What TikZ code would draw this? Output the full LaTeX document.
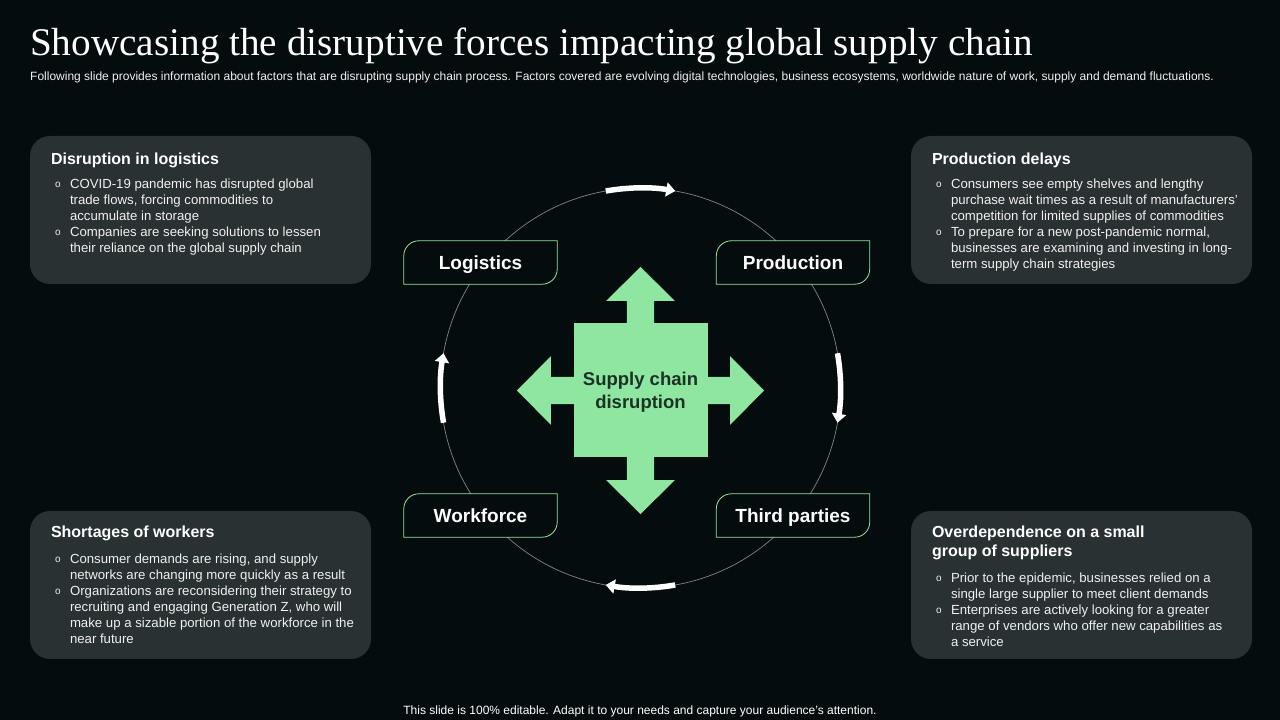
\documentclass[tikz,border=0pt]{standalone}
\usepackage{fontspec}
\setmainfont{Liberation Sans}
\newfontfamily\titlefont{Liberation Serif}
\usepackage{xcolor}
\usepackage{tikz}
\usetikzlibrary{arrows.meta}
\definecolor{slidebg}{HTML}{050C0D}
\definecolor{panelgray}{HTML}{2A3132}
\definecolor{mintgreen}{HTML}{8EE6A1}
\definecolor{ringgray}{HTML}{7D8886}
\definecolor{hubtext}{HTML}{1C3226}
\definecolor{softwhite}{HTML}{F0F0F0}
\newcommand{\bulletmark}{\raisebox{1pt}{\fontsize{10}{10}\selectfont o}}
% outline with only two rounded corners
\newcommand{\tagoutline}[1]{%
  \draw[tagedge] ([yshift=-15pt]#1.north west) arc[start angle=180, end angle=90, radius=15pt]
    -- (#1.north east) -- ([yshift=15pt]#1.south east) arc[start angle=0, end angle=-90, radius=15pt]
    -- (#1.south west) -- cycle;}

\begin{document}
\begin{tikzpicture}[x=1pt, y=1pt,
    panel/.style={fill=panelgray, rounded corners=20pt, minimum width=341pt, minimum height=148pt, inner sep=0pt},
    paneltitle/.style={anchor=base west, inner sep=0pt, text=white, font=\fontsize{16}{19}\selectfont\bfseries},
    bulletlist/.style={anchor=base west, inner sep=0pt, text=softwhite, font=\fontsize{13.2}{16}\selectfont},
    tag/.style={fill=slidebg, minimum width=153pt, minimum height=43pt, inner sep=0pt, text height=13.6pt, text depth=0pt,
                text=white, font=\fontsize{19}{22}\selectfont\bfseries},
    tagedge/.style={draw=mintgreen, line width=0.8pt},
    flow/.style={draw=white, line width=5.5pt, -{Triangle[length=9pt, width=14pt]}},
  ]
  \fill[slidebg] (0,0) rectangle (1280,720);
  \useasboundingbox (0,0) rectangle (1280,720);

  % heading
  \node[anchor=base west, inner sep=0pt, text=white, font=\titlefont\fontsize{39.2}{44}\selectfont] (title) at (30,664)
    {Showcasing the disruptive forces impacting global supply chain};
  \node[anchor=base west, inner sep=0pt, text=softwhite, font=\fontsize{12}{14}\selectfont] (subtitle) at (30,639)
    {Following slide provides information about factors that are disrupting supply chain process. Factors covered are evolving digital technologies, business ecosystems, worldwide nature of work, supply and demand fluctuations.};

  % side panels
  \node[panel] (logpanel) at (200.5,510) {};
  \node[paneltitle] at ([shift={(21,-28.5)}]logpanel.north west) {Disruption in logistics};
  \node[bulletlist] at ([shift={(25,-52.5)}]logpanel.north west) {%
    \begin{tabular}[t]{@{}p{15pt}@{}l@{}}
      \bulletmark & COVID-19 pandemic has disrupted global\\
      & trade flows, forcing commodities to\\
      & accumulate in storage\\
      \bulletmark & Companies are seeking solutions to lessen\\
      & their reliance on the global supply chain
    \end{tabular}};

  \node[panel] (prodpanel) at (1081.5,510) {};
  \node[paneltitle] at ([shift={(21,-28.5)}]prodpanel.north west) {Production delays};
  \node[bulletlist] at ([shift={(25,-52.5)}]prodpanel.north west) {%
    \begin{tabular}[t]{@{}p{15pt}@{}l@{}}
      \bulletmark & Consumers see empty shelves and lengthy\\
      & purchase wait times as a result of manufacturers'\\
      & competition for limited supplies of commodities\\
      \bulletmark & To prepare for a new post-pandemic normal,\\
      & businesses are examining and investing in long-\\
      & term supply chain strategies
    \end{tabular}};

  \node[panel] (workpanel) at (200.5,135) {};
  \node[paneltitle] at ([shift={(21,-26.5)}]workpanel.north west) {Shortages of workers};
  \node[bulletlist] at ([shift={(25,-52.5)}]workpanel.north west) {%
    \begin{tabular}[t]{@{}p{15pt}@{}l@{}}
      \bulletmark & Consumer demands are rising, and supply\\
      & networks are changing more quickly as a result\\
      \bulletmark & Organizations are reconsidering their strategy to\\
      & recruiting and engaging Generation Z, who will\\
      & make up a sizable portion of the workforce in the\\
      & near future
    \end{tabular}};

  \node[panel] (thirdpanel) at (1081.5,135) {};
  \node[paneltitle] at ([shift={(21,-26.5)}]thirdpanel.north west) {%
    \begin{tabular}[t]{@{}l@{}}Overdependence on a small\\group of suppliers\end{tabular}};
  \node[bulletlist] at ([shift={(25,-72)}]thirdpanel.north west) {%
    \begin{tabular}[t]{@{}p{15pt}@{}l@{}}
      \bulletmark & Prior to the epidemic, businesses relied on a\\
      & single large supplier to meet client demands\\
      \bulletmark & Enterprises are actively looking for a greater\\
      & range of vendors who offer new capabilities as\\
      & a service
    \end{tabular}};

  % ring with flow arrows
  \coordinate (ring) at (640.5,332);
  \draw[ringgray, line width=0.7pt] (ring) circle[radius=200];
  \draw[flow] ([shift={(100:200)}]ring) arc[start angle=100, end angle=80, radius=200];
  \draw[flow] ([shift={(10:200)}]ring) arc[start angle=10, end angle=-10, radius=200];
  \draw[flow] ([shift={(-80:200)}]ring) arc[start angle=-80, end angle=-100, radius=200];
  \draw[flow] ([shift={(190:200)}]ring) arc[start angle=190, end angle=170, radius=200];

  % tags on the ring
  \node[tag] (logistics) at (480.5,457.5) {Logistics};
  \node[tag] (production) at (793,457.5) {Production};
  \node[tag] (workforce) at (480.5,204.5) {Workforce};
  \node[tag] (thirdparties) at (793,204.5) {Third parties};
  \tagoutline{logistics}
  \tagoutline{production}
  \tagoutline{workforce}
  \tagoutline{thirdparties}

  % hub with four arrows
  \foreach \ang in {0,90,180,270}
    \fill[mintgreen, rotate around={\ang:(640.5,329.5)}]
      (640.5+66,329.5+13.7) -- (640.5+89.6,329.5+13.7) -- (640.5+89.6,329.5+34.3)
      -- (640.5+123.6,329.5) -- (640.5+89.6,329.5-34.3) -- (640.5+89.6,329.5-13.7)
      -- (640.5+66,329.5-13.7) -- cycle;
  \node[fill=mintgreen, minimum size=134pt, inner sep=0pt, text=hubtext, align=center,
        font=\fontsize{18.5}{23}\selectfont\bfseries] (hub) at (640.5,329.5) {};
  \node[text=hubtext, align=center, inner sep=0pt, font=\fontsize{18.5}{23}\selectfont\bfseries] (hubtitle)
    at ([yshift=-1.5pt]hub.center) {Supply chain\\disruption};

  \node[anchor=base, inner sep=0pt, text=white, font=\fontsize{12}{14}\selectfont] (footer) at (640,5)
    {This slide is 100\% editable. Adapt it to your needs and capture your audience's attention.};
\end{tikzpicture}
\end{document}
